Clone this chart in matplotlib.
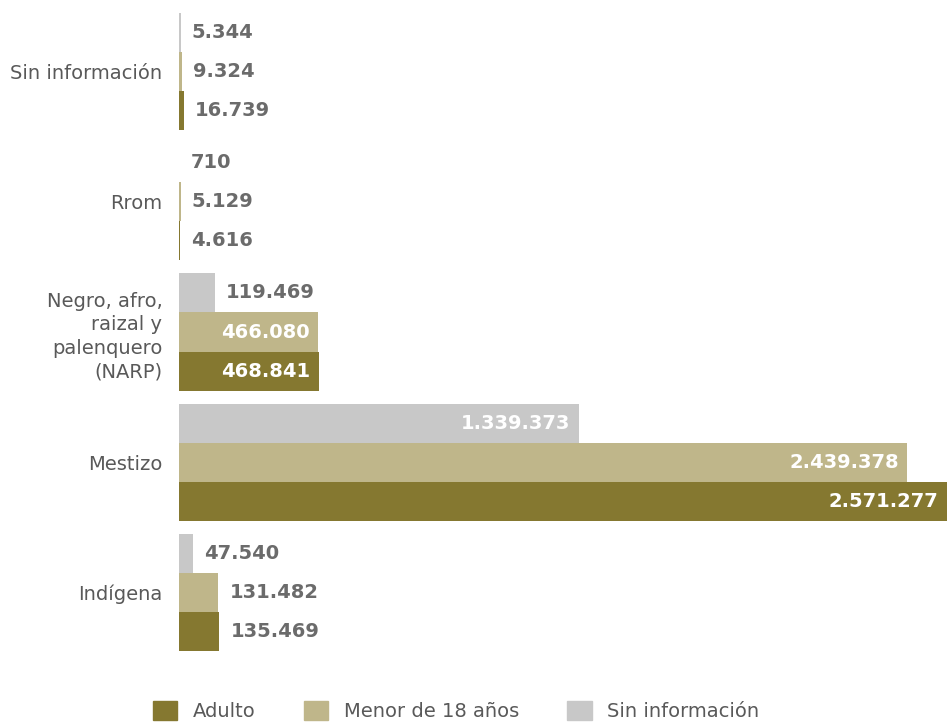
import matplotlib.pyplot as plt
import numpy as np
from matplotlib.patches import Patch

plt.rcParams['font.family'] = ['DejaVu Sans']

# Datos (de abajo hacia arriba)
categorias = ['Indígena', 'Mestizo', 'Negro, afro,\nraizal y\npalenquero\n(NARP)', 'Rrom', 'Sin información']
adulto = [135469, 2571277, 468841, 4616, 16739]
menor = [131482, 2439378, 466080, 5129, 9324]
sin_info = [47540, 1339373, 119469, 710, 5344]

series = ['Adulto', 'Menor de 18 años', 'Sin información']
colores = ['#857830', '#BFB68A', '#C8C8C8']
valores = [adulto, menor, sin_info]

def fmt(v):
    return f'{v:,}'.replace(',', '.')

fig = plt.figure(figsize=(9.48, 7.22), dpi=100)
ax = fig.add_axes([179 / 948, 71 / 722, 769 / 948, 638 / 722])

y = np.arange(len(categorias))
h = 0.3
offsets = [-h, 0, h]
xmax = max(adulto) * 1.0015

for vals, col, off in zip(valores, colores, offsets):
    ax.barh(y + off, vals, height=h, color=col)
    for yi, v in zip(y, vals):
        if v > 300000:
            ax.annotate(fmt(v), (v, yi + off), xytext=(-6, 0), textcoords='offset points',
                        ha='right', va='center', color='white', fontsize=14, fontweight='bold')
        else:
            ax.annotate(fmt(v), (v, yi + off), xytext=(8, 0), textcoords='offset points',
                        ha='left', va='center', color='#6B6B6B', fontsize=14, fontweight='bold')

ax.set_xlim(0, xmax)
ax.set_ylim(-0.45, 4.45)
ax.set_yticks(y)
ax.set_yticklabels(categorias, fontsize=14, color='#595959', ha='right', linespacing=1.3)
ax.tick_params(axis='y', length=0, pad=12)
ax.set_xticks([])
for s in ax.spines.values():
    s.set_visible(False)

handles = [Patch(color=c, label=l) for c, l in zip(colores, series)]
fig.legend(handles=handles, loc='center', bbox_to_anchor=(0.481, 0.015), ncol=3,
           frameon=False, fontsize=14, labelcolor='#595959', handlelength=1.25,
           handleheight=1.15, columnspacing=2.5, handletextpad=0.8)

fig.savefig('out.png', dpi=100)
